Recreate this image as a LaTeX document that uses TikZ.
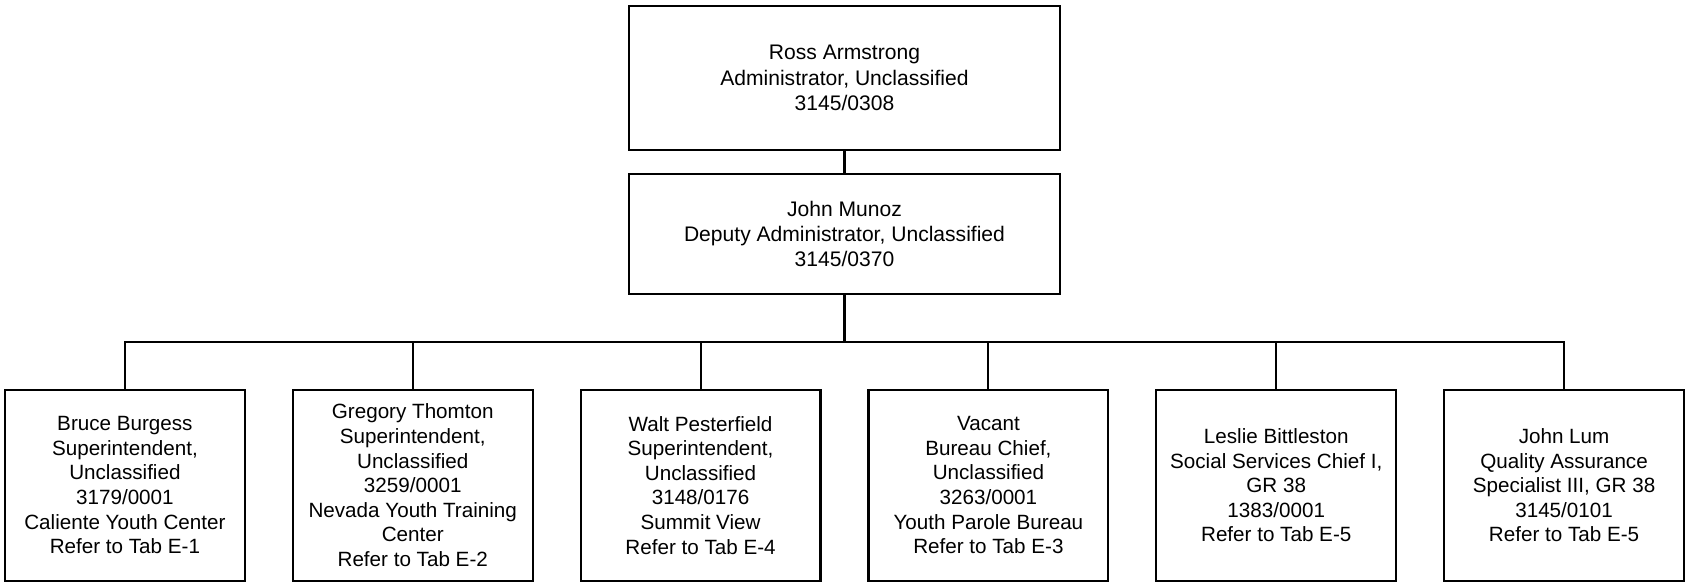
\documentclass[tikz,border=0pt]{standalone}
\usepackage{fontspec}
\setmainfont{Liberation Sans}
\usetikzlibrary{positioning}

\begin{document}
\begin{tikzpicture} [
						node distance=0.96cm,
						every node/.style={outer sep=0pt},
						post/.style={draw, line width=1.2pt, align=center, minimum width=4.8cm, minimum height=3.82cm, font=\fontsize{11.75}{14}\selectfont},
						head/.style={post, minimum width=8.64cm, minimum height=2.88cm, font=\fontsize{12}{14.3}\selectfont},
						bus/.style={to path={-- ++(0,-0.96) -| (\tikztotarget)}}
					]

\useasboundingbox (-16.9,1.56) rectangle (16.82,-10.08);

\node (0) [head] {Ross Armstrong\\Administrator, Unclassified\\3145/0308};
\node (1) [head, minimum height=2.4cm, below=0.48cm of 0] {John Munoz\\Deputy Administrator, Unclassified\\3145/0370};
\node (2) [post, below=1.92cm of 1, xshift=-14.4cm] {Bruce Burgess\\Superintendent,\\Unclassified\\3179/0001\\Caliente Youth Center\\Refer to Tab E-1};
\node (3) [post, right=of 2] {Gregory Thomton\\Superintendent,\\Unclassified\\3259/0001\\Nevada Youth Training\\Center\\Refer to Tab E-2};
\node (4) [post, right=of 3] {Walt Pesterfield\\Superintendent,\\Unclassified\\3148/0176\\Summit View\\Refer to Tab E-4};
\node (5) [post, right=of 4] {Vacant\\Bureau Chief,\\Unclassified\\3263/0001\\Youth Parole Bureau\\Refer to Tab E-3};
\node (6) [post, right=of 5] {Leslie Bittleston\\Social Services Chief I,\\GR 38\\1383/0001\\Refer to Tab E-5};
\node (7) [post, right=of 6] {John Lum\\Quality Assurance\\Specialist III, GR 38\\3145/0101\\Refer to Tab E-5};

\path[line width=1.2pt]
	(0) edge (1)
	(1.south) edge [bus] (2.north)
	(1.south) edge [bus] (3.north)
	(1.south) edge [bus] (4.north)
	(1.south) edge [bus] (5.north)
	(1.south) edge [bus] (6.north)
	(1.south) edge [bus] (7.north);

\end{tikzpicture}
\end{document}
